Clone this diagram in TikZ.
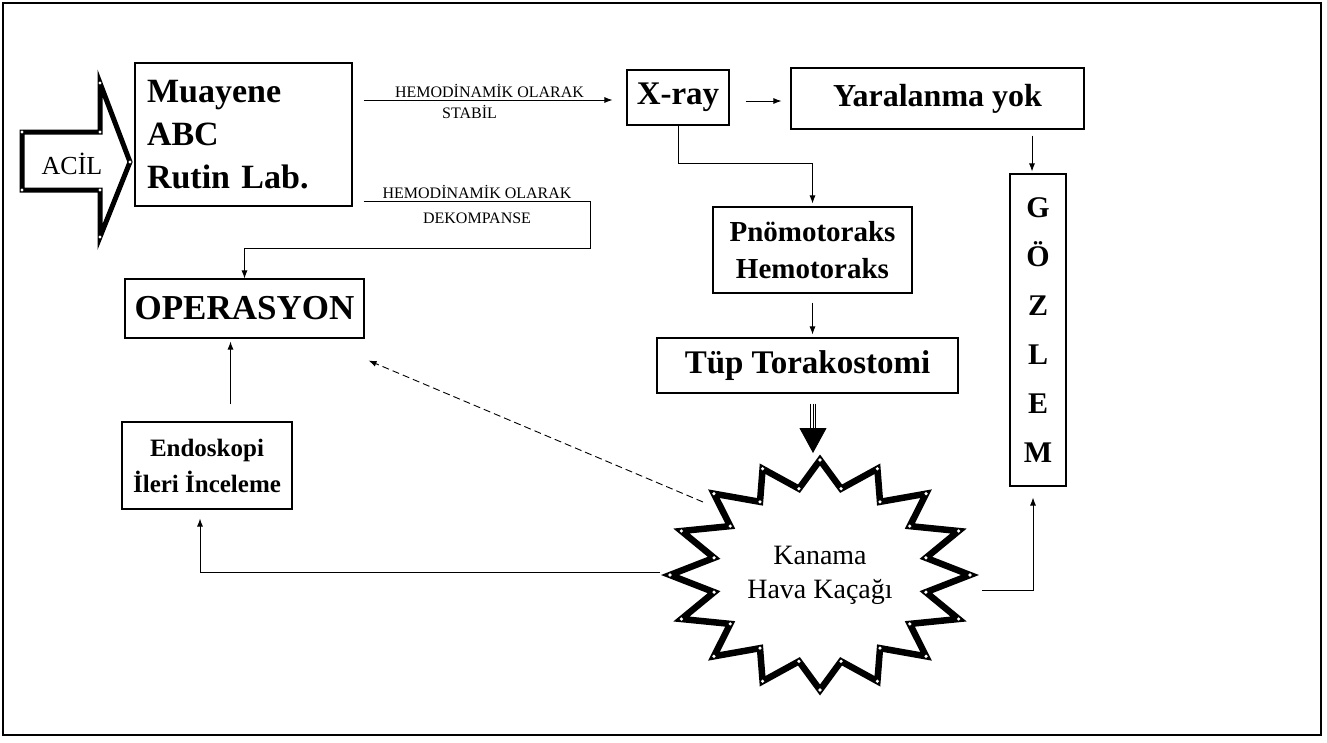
\documentclass[tikz,border=0pt]{standalone}
\usepackage{fontspec}
\setmainfont{Liberation Serif}
\usetikzlibrary{arrows.meta}

\begin{document}
\begin{tikzpicture}[x=1pt, y=-1pt, >={Latex[length=8pt,width=6pt]},
  box/.style={draw, line width=1.1pt, inner sep=0pt, align=center},
  flow/.style={line width=0.9pt, ->},
  small label/.style={font=\fontsize{16}{18}\selectfont, inner sep=2pt}]
\useasboundingbox (0,0) rectangle (1327,742);
\draw[line width=1.4pt] (3,3) rectangle (1321,735);

\node (acil) [font=\fontsize{26}{30}\selectfont] at (72,164) {ACİL};
\draw[line width=5pt, line join=miter] (22,132) -- (100,132) -- (100,83) -- (130,162) -- (100,237) -- (100,190) -- (22,190) -- cycle;
\foreach \p in {(22,132),(100,132),(100,83),(130,162),(100,237),(100,190),(22,190)}
  \fill[white] \p circle (1.6);

\node (muayene) [box, minimum width=217pt, minimum height=143pt, text width=193pt, align=left, font=\fontsize{34}{43}\selectfont\bfseries] at (243.5,134.5) {Muayene\\ABC\\Rutin Lab.};
\node (xray) [box, minimum width=102pt, minimum height=55pt, font=\fontsize{33}{38}\selectfont\bfseries] at (678,97.5) {X-ray};
\node (yaralanma) [box, minimum width=293pt, minimum height=61pt, font=\fontsize{32}{38}\selectfont\bfseries] at (937.5,98.5) {Yaralanma yok};
\node (pnomo) [box, minimum width=199pt, minimum height=86pt, font=\fontsize{29}{37}\selectfont\bfseries] at (812.5,250) {Pnömotoraks\\Hemotoraks};
\node (tup) [box, minimum width=301pt, minimum height=55pt, font=\fontsize{33}{38}\selectfont\bfseries] at (807.5,365.5) {Tüp Torakostomi};
\node (gozlem) [box, minimum width=56pt, minimum height=312pt, font=\fontsize{30}{49}\selectfont\bfseries] at (1038,330) {G\\Ö\\Z\\L\\E\\M};
\node (operasyon) [box, minimum width=239pt, minimum height=59pt, font=\fontsize{35}{40}\selectfont\bfseries] at (244.5,308.5) {OPERASYON};
\node (endoskopi) [box, minimum width=170pt, minimum height=87pt, font=\fontsize{25}{36}\selectfont\bfseries] at (207,465.5) {Endoskopi\\İleri İnceleme};
\node (kanama) [align=center, font=\fontsize{28}{34}\selectfont] at (820,575) {Kanama\\Hava Kaçağı};

\begin{scope}[shift={(kanama.center)}]
\draw[line width=6.5pt, line join=miter] (90:150 and 115) \foreach \a in {0,22.5,...,337.5} { -- ({90-\a-11.25}:108 and 88) -- ({90-\a-22.5}:150 and 115) } -- cycle;
\foreach \a in {0,22.5,...,337.5} {
  \fill[white] (\a:150 and 115) circle (1.8);
  \fill[white] ({\a+11.25}:108 and 88) circle (1.8);
}
\end{scope}

\draw[flow, shorten <=11pt, shorten >=14pt] ([shift={(0,2.5)}]muayene.east |- xray.west) -- ([shift={(0,2.5)}]xray.west)
  node[midway, above, small label] {HEMODİNAMİK OLARAK}
  node[midway, below=3pt, xshift=-20pt, small label] {STABİL};
\draw[flow] ([shift={(11,-5)}]muayene.south east) -- node[above, small label] {HEMODİNAMİK OLARAK} node[below=9pt, small label] {DEKOMPANSE} ++(227,0) -- ++(0,47) -| (operasyon.north);
\draw[flow, shorten <=16pt, shorten >=9pt] ([shift={(0,3.5)}]xray.east) -- ([shift={(0,3.5)}]xray.east -| yaralanma.west);
\draw[flow, shorten >=3pt] (xray.south) -- ++(0,38) -| (pnomo.north);
\draw[flow, shorten <=9pt, shorten >=3pt] (pnomo.south) -- (pnomo.south |- tup.north);
\draw[flow, shorten <=6pt, shorten >=2pt] ([shift={(-6,0)}]gozlem.north |- yaralanma.south) -- ([shift={(-6,0)}]gozlem.north);

\draw[line width=0.8pt, -{Triangle[width=27pt,length=25pt]}] ([shift={(5.5,10)}]tup.south) -- ([shift={(-7,-122)}]kanama.center);
\foreach \s in {-2.6,2.6}
  \draw[line width=0.8pt] ([shift={(5.5+\s,10)}]tup.south) -- ++(0,25);

\draw[flow, shorten >=11pt] ([shift={(162,15)}]kanama.center) -| ([shift={(-5,0)}]gozlem.south);
\draw[flow, shorten >=9pt] ([shift={(-160,-3)}]kanama.center) -| ([shift={(-7,0)}]endoskopi.south);
\draw[flow, shorten <=17pt, shorten >=3pt] ([shift={(-14,0)}]operasyon.south |- endoskopi.north) -- ([shift={(-14,0)}]operasyon.south);
\draw[flow, dash pattern=on 7pt off 4pt] ([shift={(-117,-73)}]kanama.center) -- ([shift={(4,22)}]operasyon.south east);

\end{tikzpicture}
\end{document}
